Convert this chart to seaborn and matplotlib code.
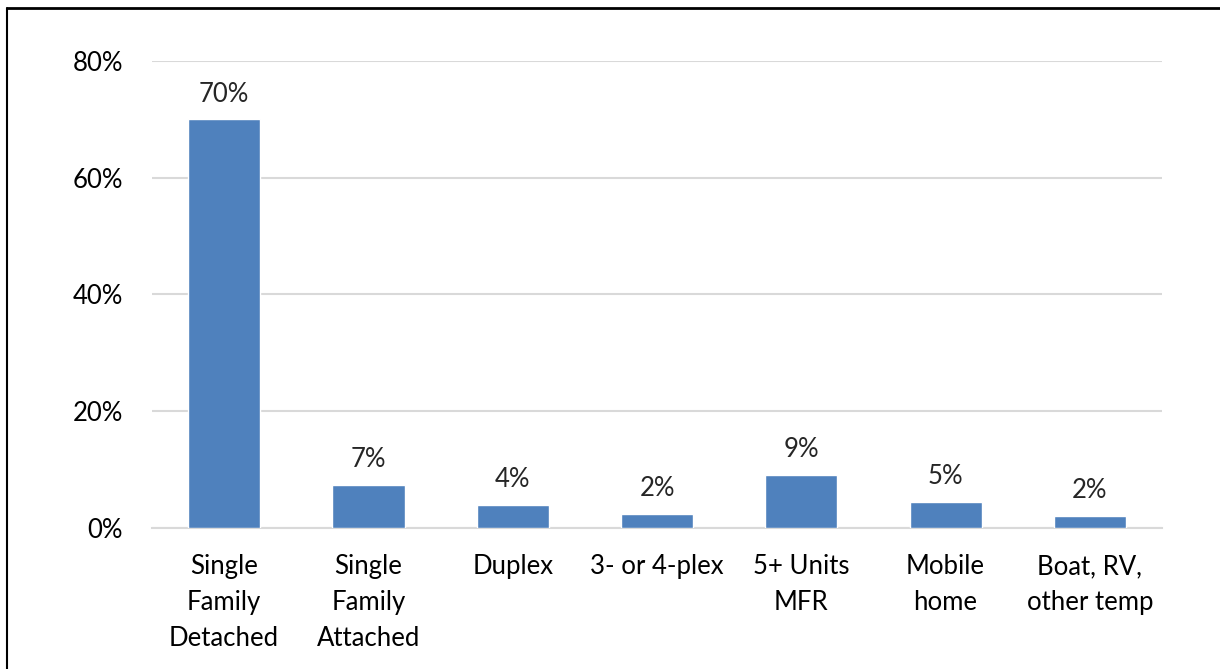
import matplotlib
matplotlib.use("Agg")
import matplotlib.pyplot as plt
import seaborn as sns
import pandas as pd
from matplotlib.lines import Line2D

categories = ["Single\nFamily\nDetached", "Single\nFamily\nAttached", "Duplex",
              "3- or 4-plex", "5+ Units\nMFR", "Mobile\nhome", "Boat, RV,\nother temp"]
shares = [0.700, 0.074, 0.040, 0.024, 0.091, 0.045, 0.021]
share_labels = ["70%", "7%", "4%", "2%", "9%", "5%", "2%"]
y_ticks = [0.0, 0.2, 0.4, 0.6, 0.8]

sns.set_style("white")
plt.rcParams["font.family"] = ["Lato", "DejaVu Sans"]

df = pd.DataFrame({"type": categories, "share": shares})

fig = plt.figure(figsize=(12.2, 6.69), dpi=100)
ax = fig.add_axes([0.1246, 0.2108, 0.9525 - 0.1246, 0.9093 - 0.2108])

sns.barplot(data=df, x="type", y="share", color="#4F81BD", width=0.5,
            saturation=1, ax=ax, zorder=3)

ax.set_ylim(0, 0.8)
ax.set_yticks(y_ticks)
ax.set_yticklabels([f"{int(round(t * 100))}%" for t in y_ticks])
ax.yaxis.grid(True, color="#D9D9D9", linewidth=1.5, zorder=0)
ax.set_axisbelow(True)
for s in ["top", "right", "left"]:
    ax.spines[s].set_visible(False)
ax.spines["bottom"].set_color("#D9D9D9")
ax.spines["bottom"].set_linewidth(1.5)
ax.tick_params(axis="both", length=0, labelsize=18.5, colors="black")
ax.tick_params(axis="y", pad=21)
ax.tick_params(axis="x", pad=19)
for t in ax.get_xticklabels():
    t.set_linespacing(1.55)
ax.set_xlabel("")
ax.set_ylabel("")

for p, lab in zip(ax.patches, share_labels):
    ax.annotate(lab, (p.get_x() + p.get_width() / 2, p.get_height()),
                xytext=(0, 9), textcoords="offset points",
                ha="center", va="bottom", fontsize=18.5)

# outer frame of the original figure
fig.add_artist(Line2D([7 / 1220, 1.0], [1 - 7.5 / 669, 1 - 7.5 / 669],
                      color="black", linewidth=2, transform=fig.transFigure))
fig.add_artist(Line2D([7 / 1220, 7 / 1220], [0, 1 - 7.5 / 669],
                      color="black", linewidth=1.5, transform=fig.transFigure))

fig.savefig("out.png", dpi=100)
